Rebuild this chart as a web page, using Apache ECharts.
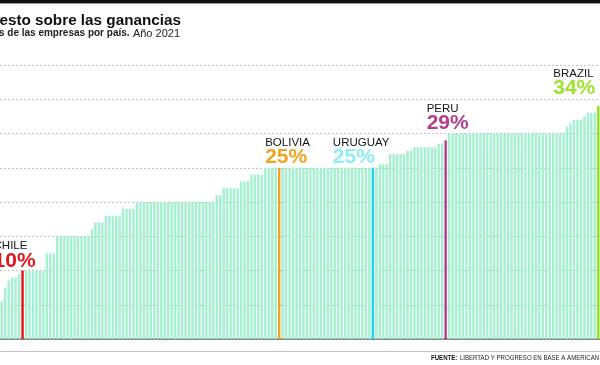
<!DOCTYPE html>
<html>
<head>
<meta charset="utf-8">
<script src="https://cdn.jsdelivr.net/npm/echarts/dist/echarts.min.js"></script>
<style>html,body{margin:0;padding:0;background:#fff;}#c{width:600px;height:365px;}</style>
</head>
<body>
<div id="c"></div>
<script>
// Corporate income tax rate (%) by country, sorted ascending (visible part of chart)
const values = [
  5.5, 7.5, 8.5, 9, 9, 9.5, 10,
  10, 10, 10, 10, 10, 10,
  12.5, 12.5, 12.5,
  15, 15, 15, 15, 15, 15, 15, 15, 15, 15,
  16,
  17, 17, 17,
  18, 18, 18, 18, 18,
  19, 19, 19, 19,
  20, 20, 20, 20, 20, 20, 20, 20, 20, 20, 20, 20, 20, 20, 20, 20, 20, 20, 20, 20, 20, 20, 20,
  21, 21,
  22, 22, 22, 22, 22,
  23, 23, 23,
  24, 24, 24, 24,
  25, 25, 25, 25, 25, 25, 25, 25, 25, 25, 25, 25, 25, 25, 25, 25, 25, 25, 25, 25, 25, 25, 25, 25, 25, 25, 25, 25, 25, 25, 25, 25, 25,
  25.5, 25.5, 25.5,
  27, 27, 27, 27, 27,
  27.5, 27.5,
  28, 28, 28, 28, 28, 28, 28,
  28.5, 28.5,
  29,
  30, 30, 30, 30, 30, 30, 30, 30, 30, 30, 30, 30, 30, 30, 30, 30, 30, 30, 30, 30, 30, 30, 30, 30, 30, 30, 30, 30, 30, 30, 30, 30, 30, 30,
  31, 31.5,
  32, 32, 32,
  32.5,
  33, 33, 33,
  34
];
const highlightNames = ['CHILE', 'BOLIVIA', 'URUGUAY', 'PERU', 'BRAZIL'];
const highlightIndex = [6, 80, 107, 128, 172];
const highlightLabels = ['10%', '25%', '25%', '29%', '34%'];
const yTicks = [0, 5, 10, 15, 20, 25, 30, 35, 40];

const categories = values.map((v, i) => {
  const k = highlightIndex.indexOf(i);
  return k >= 0 ? highlightNames[k] : 'País ' + (i + 1);
});

// styles (kept out of the data)
const hlStyle = {
  CHILE:   { bar: '#e3131b', text: '#e3141c', off: [-29, -0.6] },
  BOLIVIA: { bar: '#f0a224', text: '#f2a51c', off: [-14, -1.4] },
  URUGUAY: { bar: '#1fd2f2', text: '#8eeef8', off: [-40, -1.4] },
  PERU:    { bar: '#b23c8a', text: '#b2418c', off: [-19, -7.8] },
  BRAZIL:  { bar: '#8fe21e', text: '#9be32c', off: [-45, -8.5] }
};

const seriesData = values.map((v, i) => {
  const k = highlightIndex.indexOf(i);
  if (k < 0) return v;
  const nm = highlightNames[k];
  const st = hlStyle[nm];
  return {
    value: v,
    itemStyle: { color: st.bar, opacity: 1 },
    label: {
      show: true,
      position: 'top',
      distance: 0,
      align: 'left',
      offset: st.off,
      formatter: '{n|' + nm + '}\n{p|' + highlightLabels[k] + '}',
      rich: {
        n: { fontFamily: 'Liberation Sans, Arial, sans-serif', fontSize: 11.5, lineHeight: 12, color: '#151515' },
        p: { fontFamily: 'Liberation Sans, Arial, sans-serif', fontSize: 21, fontWeight: 'bold', lineHeight: 18, color: st.text }
      }
    }
  };
});

const chart = echarts.init(document.getElementById('c'), null, { renderer: 'canvas' });
chart.setOption({
  animation: false,
  backgroundColor: '#ffffff',
  grid: { left: 0, right: 0, top: 65, bottom: 26, containLabel: false },
  xAxis: {
    type: 'category',
    data: categories,
    axisTick: { show: false },
    axisLabel: { show: false },
    axisLine: { show: true, lineStyle: { color: '#6e6e6e', width: 1.5 } },
    splitLine: { show: false }
  },
  yAxis: {
    type: 'value',
    min: yTicks[0],
    max: yTicks[yTicks.length - 1],
    interval: 5,
    axisLabel: { show: false },
    axisLine: { show: false },
    axisTick: { show: false },
    splitLine: { show: true, lineStyle: { color: '#c4c4c4', type: [2, 2], width: 1 } }
  },
  series: [{
    type: 'bar',
    data: seriesData,
    barCategoryGap: '30%',
    itemStyle: { color: '#9aeecb', opacity: 0.9 },
    z: 1
  }],
  graphic: [
    { type: 'rect', left: 0, top: 0, shape: { x: 0, y: 0, width: 600, height: 3 }, style: { fill: '#111111' } },
    { type: 'line', shape: { x1: 0, y1: 3.5, x2: 600, y2: 3.5 }, style: { stroke: '#9a9a9a', lineWidth: 1 } },
    { type: 'line', shape: { x1: 0, y1: 351.5, x2: 600, y2: 351.5 }, style: { stroke: '#c2c2c2', lineWidth: 1 } },
    {
      type: 'text', x: 181, y: 20.7, scaleX: 0.985,
      style: {
        text: 'Impuesto sobre las ganancias',
        fontFamily: 'Liberation Sans, Arial, sans-serif', fontSize: 15.5, fontWeight: 'bold',
        fill: '#111', textAlign: 'right', textVerticalAlign: 'middle'
      }
    },
    {
      type: 'text', x: 180, y: 33.6,
      style: {
        text: '{b|Alícuotas de las empresas por país.} {r|Año 2021}',
        rich: {
          b: { fontFamily: 'Liberation Sans, Arial, sans-serif', fontSize: 10, fontWeight: 'bold', fill: '#222' },
          r: { fontFamily: 'Liberation Sans, Arial, sans-serif', fontSize: 11, fill: '#222' }
        },
        textAlign: 'right', textVerticalAlign: 'middle'
      }
    },
    {
      type: 'text', x: 431, y: 357.5, scaleX: 0.76,
      style: {
        text: '{b|FUENTE:} {r|LIBERTAD Y PROGRESO EN BASE A AMERICAN}',
        rich: {
          b: { fontFamily: 'Liberation Sans, Arial, sans-serif', fontSize: 8, fontWeight: 'bold', fill: '#111' },
          r: { fontFamily: 'Liberation Sans, Arial, sans-serif', fontSize: 8, fill: '#222' }
        },
        textAlign: 'left', textVerticalAlign: 'middle'
      }
    }
  ]
});
</script>
</body>
</html>
